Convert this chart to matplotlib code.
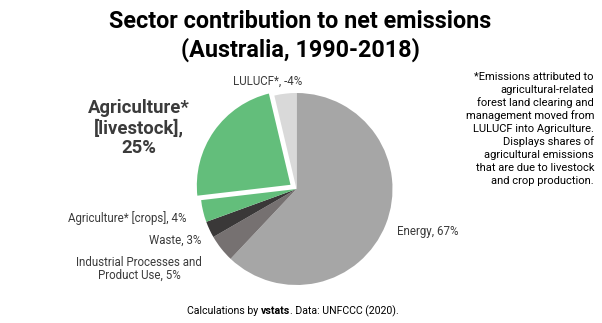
import matplotlib
matplotlib.use("Agg")
import matplotlib.pyplot as plt

sectors = ["Energy", "Industrial Processes and\nProduct Use", "Waste",
           "Agriculture* [crops]", "Agriculture*\n[livestock]", "LULUCF*"]
shares = [67, 5, 3, 4, 25, -4]
colors = ["#a6a6a6", "#767171", "#3a3838", "#63be7b", "#63be7b", "#d9d9d9"]
explode = [0, 0, 0, 0, 0.06, 0]

plt.rcParams['font.family'] = ['Roboto', 'DejaVu Sans']
W, H = 602, 323
fig = plt.figure(figsize=(W / 100, H / 100), dpi=100)

cx, cy, r = 296.5, 189, 96
half = 1.2 * r
ax = fig.add_axes([(cx - half) / W, (H - cy - half) / H, 2 * half / W, 2 * half / H])
sizes = [abs(v) for v in shares]
wedges, _ = ax.pie(sizes, colors=colors, explode=explode, startangle=90,
                   counterclock=False, radius=1.0)
wedges[4].set_edgecolor("white")
wedges[4].set_linewidth(1.5)
ax.set_xlim(-1.2, 1.2)
ax.set_ylim(-1.2, 1.2)
ax.set_aspect("equal")
ax.axis("off")

def px(x, y):
    return x / W, 1 - y / H

lab = "#3b3b3b"
fs = 8.3
def lbl(i):
    return f"{sectors[i]}, {shares[i]}%"

fig.text(*px(397, 232), lbl(0), fontsize=fs, color=lab, ha="left", va="center")
fig.text(*px(139, 269), lbl(1), fontsize=fs, color=lab, ha="center", va="center",
         multialignment="center", linespacing=1.0)
fig.text(*px(201, 240), lbl(2), fontsize=fs, color=lab, ha="right", va="center")
fig.text(*px(186, 218), lbl(3), fontsize=fs, color=lab, ha="right", va="center")
fig.text(*px(139, 128), lbl(4).replace("], ", "],\n"), fontsize=13.3, color="#3b3b3b",
         fontweight="bold", ha="center", va="center", multialignment="center",
         linespacing=1.12)
fig.text(*px(268, 81), lbl(5), fontsize=fs, color=lab, ha="center", va="center")

title_lines = ["Sector contribution to net emissions", "(Australia, 1990-2018)"]
for i, line in enumerate(title_lines):
    fig.text(*px(300, 22 + 28 * i), line, fontsize=16.8, fontweight="bold",
             color="black", ha="center", va="center")

note_lines = ["*Emissions attributed to", "agricultural-related",
              "forest land clearing and", "management moved from",
              "LULUCF into Agriculture.", "Displays shares of",
              "agricultural emissions", "that are due to livestock",
              "and crop production."]
for i, line in enumerate(note_lines):
    fig.text(*px(594, 77 + 13 * i), line, fontsize=8.0, color="black",
             ha="right", va="center")

# source line with bold part
parts = [("Calculations by ", "normal"), ("vstats", "bold"), (". Data: UNFCCC (2020).", "normal")]
fig.canvas.draw()
rend = fig.canvas.get_renderer()
texts = []
for s, w in parts:
    t = fig.text(0, 1 - 311 / H, s, fontsize=7.6, fontweight=w, color="black",
                 ha="left", va="center")
    texts.append(t)
widths = [t.get_window_extent(rend).width for t in texts]
x0 = 293 - sum(widths) / 2
for t, wdt in zip(texts, widths):
    t.set_x(x0 / W)
    x0 += wdt

fig.savefig("out.png", dpi=100)
